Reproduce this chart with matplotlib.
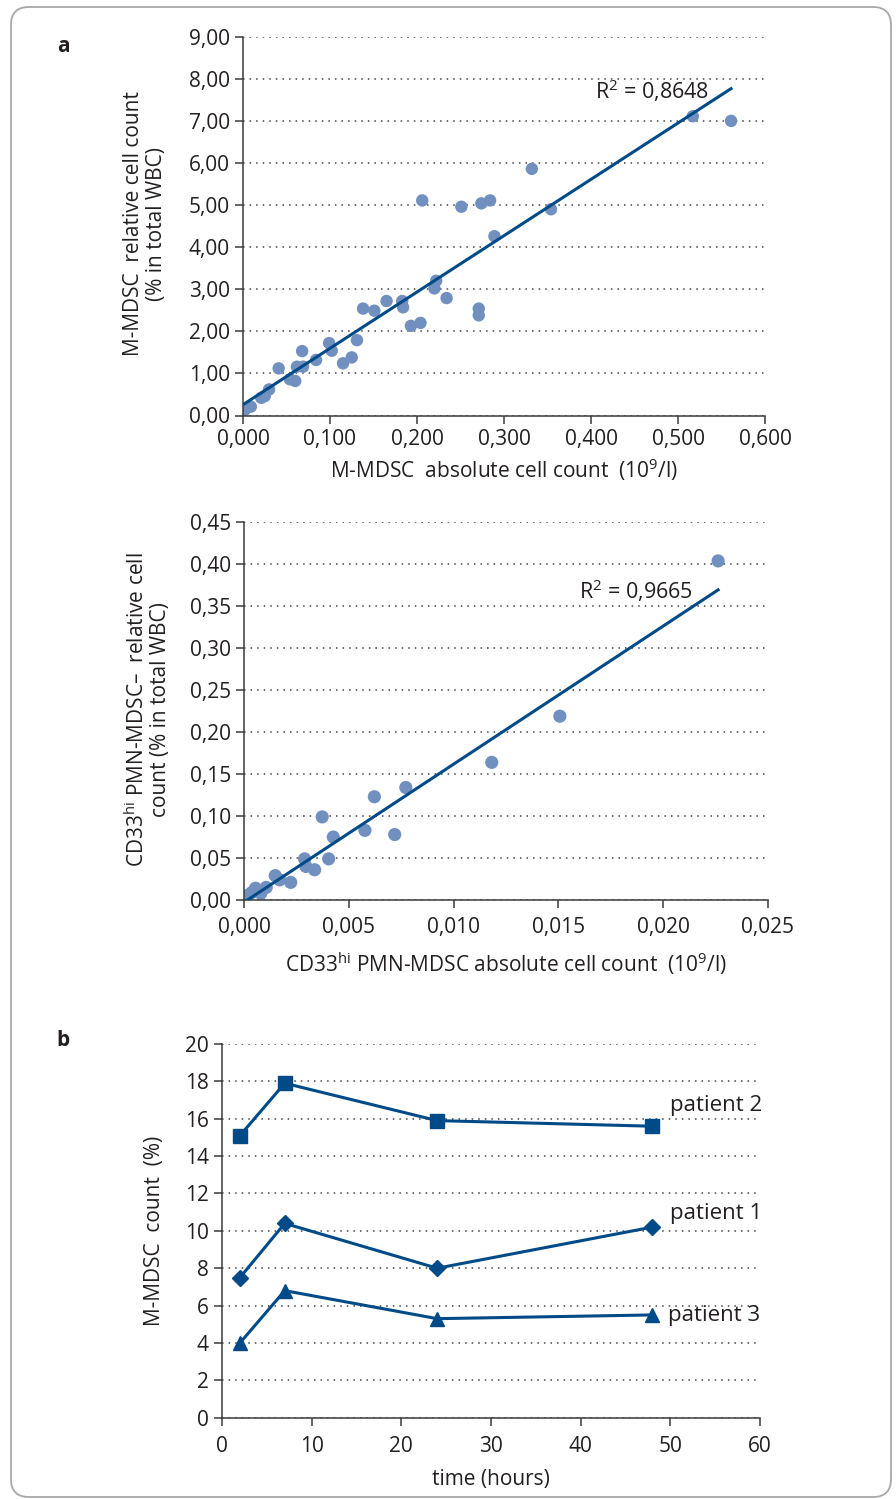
import numpy as np
import matplotlib
matplotlib.use("Agg")
import matplotlib.pyplot as plt
from matplotlib.patches import FancyBboxPatch
from matplotlib.ticker import FuncFormatter, MultipleLocator

plt.rcParams['font.family'] = ['Open Sans', 'DejaVu Sans']
plt.rcParams['mathtext.fontset'] = 'custom'
plt.rcParams['mathtext.rm'] = 'Open Sans'
plt.rcParams['mathtext.it'] = 'Open Sans'

# panel a (top): M-MDSC absolute vs relative
m_abs = [0.002, 0.009, 0.021, 0.025, 0.030, 0.041, 0.054, 0.060, 0.062, 0.068,
         0.069, 0.084, 0.099, 0.102, 0.115, 0.125, 0.131, 0.138, 0.151, 0.165,
         0.183, 0.184, 0.193, 0.204, 0.206, 0.220, 0.222, 0.234, 0.251, 0.271,
         0.271, 0.274, 0.284, 0.289, 0.332, 0.354, 0.517, 0.561]
m_rel = [0.13, 0.21, 0.42, 0.46, 0.62, 1.12, 0.86, 0.82, 1.16, 1.53,
         1.16, 1.32, 1.72, 1.54, 1.24, 1.38, 1.79, 2.54, 2.49, 2.72,
         2.72, 2.57, 2.13, 2.20, 5.11, 3.02, 3.20, 2.79, 4.96, 2.54,
         2.38, 5.04, 5.11, 4.26, 5.86, 4.90, 7.11, 7.00]

# panel a (bottom): CD33hi PMN-MDSC
pmn_abs = [0.0000, 0.00007, 0.0002, 0.00038, 0.00055, 0.0008, 0.00106, 0.00149,
           0.0017, 0.00223, 0.00289, 0.00295, 0.00337, 0.00373, 0.00404, 0.00426,
           0.00577, 0.00622, 0.00719, 0.00772, 0.01182, 0.01507, 0.02262]
pmn_rel = [0.001, 0.004, 0.006, 0.009, 0.014, 0.008, 0.015, 0.029,
           0.024, 0.021, 0.049, 0.040, 0.036, 0.099, 0.049, 0.075,
           0.083, 0.123, 0.078, 0.134, 0.164, 0.219, 0.404]

# panel b: time course
hours = [2, 7, 24, 48]
patient1 = [7.5, 10.4, 8.0, 10.2]
patient2 = [15.1, 17.9, 15.9, 15.6]
patient3 = [4.0, 6.8, 5.3, 5.5]

DOT = '#7190c0'
LINE = '#004b87'
TXT = '#231f20'
AX = '#3a3a3a'
FS = 15
LFS = 15

fig = plt.figure(figsize=(8.96, 14.99), dpi=100)

# rounded frame
fig.patches.append(FancyBboxPatch((11 / 896, 2 / 1499), 880 / 896, 1490 / 1499,
                                  boxstyle='round,pad=0,rounding_size=0.02',
                                  transform=fig.transFigure, fill=False,
                                  edgecolor='#a8a8a8', linewidth=1.3,
                                  mutation_aspect=896 / 1499))


def comma(dec):
    return FuncFormatter(lambda v, p: f'{v:.{dec}f}'.replace('.', ','))


def style(ax):
    for s in ['top', 'right']:
        ax.spines[s].set_visible(False)
    for s in ['left', 'bottom']:
        ax.spines[s].set_color(AX)
        ax.spines[s].set_linewidth(1.1)
    ax.tick_params(direction='out', length=5.5, width=1.1, color=AX,
                   labelsize=FS, labelcolor=TXT, pad=4)
    ax.yaxis.grid(True, color='#444444', linestyle=(0, (1, 3.3)), linewidth=1.1)
    ax.set_axisbelow(True)


def trend(ax, x, y, label, lx, ly):
    x = np.array(x)
    y = np.array(y)
    k, b = np.polyfit(x, y, 1)
    xs = np.array([x.min(), x.max()])
    ax.plot(xs, k * xs + b, color=LINE, linewidth=2.2, zorder=3)
    ax.text(lx, ly, label, fontsize=15.5, color=TXT, va='center', ha='left')


# --- panel a, top
ax1 = fig.add_axes([243 / 896, 1 - 415.5 / 1499, 522 / 896, 378.8 / 1499])
style(ax1)
ax1.scatter(m_abs, m_rel, s=80, color=DOT, edgecolors='none', zorder=2)
trend(ax1, m_abs, m_rel, r'R$^{2}$ = 0,8648', 0.405, 7.72)
ax1.set_xlim(0, 0.6)
ax1.set_ylim(0, 9)
ax1.xaxis.set_major_locator(MultipleLocator(0.1))
ax1.yaxis.set_major_locator(MultipleLocator(1))
ax1.xaxis.set_major_formatter(comma(3))
ax1.yaxis.set_major_formatter(comma(2))
ax1.set_xlabel(r'M-MDSC  absolute cell count  (10$^{9}$/l)', fontsize=LFS,
               color=TXT, labelpad=5)
fig.text(145 / 896, 1 - 224 / 1499, 'M-MDSC  relative cell count\n(% in total WBC)',
         rotation=90, ha='center', va='center', fontsize=LFS, color=TXT,
         linespacing=1.1)

# --- panel a, bottom
ax2 = fig.add_axes([244 / 896, 1 - 900 / 1499, 524 / 896, 377.7 / 1499])
style(ax2)
ax2.tick_params(axis='x', pad=7)
ax2.scatter(pmn_abs, pmn_rel, s=90, color=DOT, edgecolors='none', zorder=2)
trend(ax2, pmn_abs, pmn_rel, r'R$^{2}$ = 0,9665', 0.0160, 0.368)
ax2.set_xlim(0, 0.025)
ax2.set_ylim(0, 0.45)
ax2.xaxis.set_major_locator(MultipleLocator(0.005))
ax2.yaxis.set_major_locator(MultipleLocator(0.05))
ax2.xaxis.set_major_formatter(comma(3))
ax2.yaxis.set_major_formatter(comma(2))
ax2.set_xlabel(r'CD33$^{\mathrm{hi}}$ PMN-MDSC absolute cell count  (10$^{9}$/l)',
               fontsize=LFS, color=TXT, labelpad=9)
fig.text(148 / 896, 1 - 710 / 1499,
         'CD33$^{\\mathrm{hi}}$ PMN-MDSC\u2013  relative cell\ncount (% in total WBC)',
         rotation=90, ha='center', va='center', fontsize=LFS, color=TXT,
         linespacing=1.1)

# --- panel b
ax3 = fig.add_axes([222 / 896, 1 - 1417.7 / 1499, 538 / 896, 373.7 / 1499])
style(ax3)
ax3.tick_params(axis='x', pad=8)
ax3.plot(hours, patient2, color=LINE, linewidth=2.2, marker='s', markersize=10.5, zorder=3)
ax3.plot(hours, patient1, color=LINE, linewidth=2.2, marker='D', markersize=8, zorder=3)
ax3.plot(hours, patient3, color=LINE, linewidth=2.2, marker='^', markersize=10.5, zorder=3)
ax3.text(50.0, 16.7, 'patient 2', fontsize=16, color=TXT, va='center')
ax3.text(50.0, 10.95, 'patient 1', fontsize=16, color=TXT, va='center')
ax3.text(49.7, 5.45, 'patient 3', fontsize=16, color=TXT, va='center')
ax3.set_xlim(0, 60)
ax3.set_ylim(0, 20)
ax3.xaxis.set_major_locator(MultipleLocator(10))
ax3.yaxis.set_major_locator(MultipleLocator(2))
ax3.set_xlabel('time (hours)', fontsize=LFS, color=TXT, labelpad=8)
ax3.set_ylabel('M-MDSC  count  (%)', fontsize=LFS, color=TXT, labelpad=14)

fig.text(63 / 896, 1 - 47 / 1499, 'a', fontsize=15, fontweight='bold', color=TXT,
         ha='center', va='center')
fig.text(63 / 896, 1 - 1040 / 1499, 'b', fontsize=15, fontweight='bold', color=TXT,
         ha='center', va='center')

fig.savefig('out.png', dpi=100)
